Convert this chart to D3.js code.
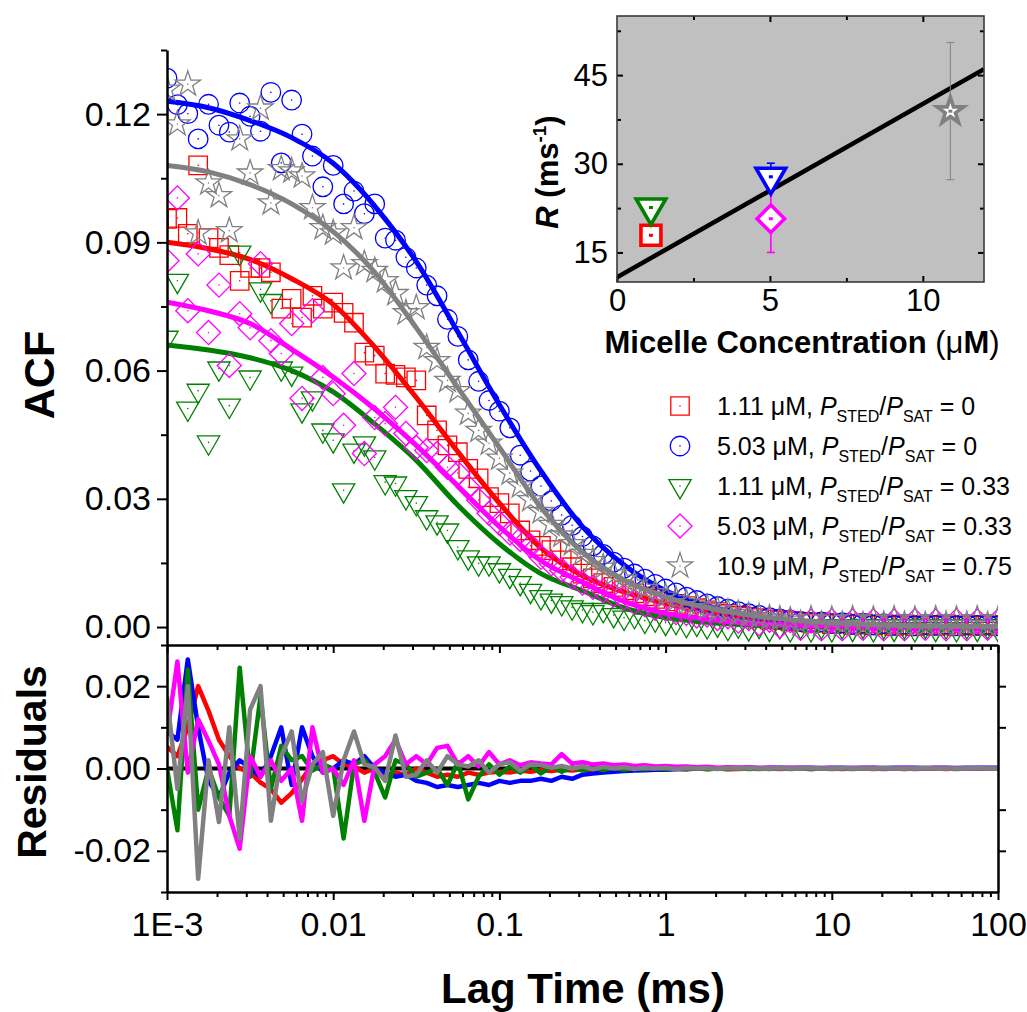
<!DOCTYPE html>
<html>
<head>
<meta charset="utf-8">
<script src="https://cdn.jsdelivr.net/npm/d3@7"></script>
<style>
  body { margin: 0; background: #fff; }
  svg { display: block; }
  text { font-family: Arial, "Liberation Sans", sans-serif; }
</style>
</head>
<body>
<svg id="chart" width="1027" height="1012"></svg>
<script>
// lag times in ms, 16 points per decade
const lagTimes = [
  0.001, 0.001155, 0.001334, 0.00154, 0.001778, 0.002054, 0.002371, 0.002738, 0.003162, 0.003652, 0.004217, 0.00487, 0.005623, 0.006494, 0.007499, 0.00866,
  0.01, 0.01155, 0.01334, 0.0154, 0.01778, 0.02054, 0.02371, 0.02738, 0.03162, 0.03652, 0.04217, 0.0487, 0.05623, 0.06494, 0.07499, 0.0866,
  0.1, 0.1155, 0.1334, 0.154, 0.1778, 0.2054, 0.2371, 0.2738, 0.3162, 0.3652, 0.4217, 0.487, 0.5623, 0.6494, 0.7499, 0.866,
  1, 1.155, 1.334, 1.54, 1.778, 2.054, 2.371, 2.738, 3.162, 3.652, 4.217, 4.87, 5.623, 6.494, 7.499, 8.66,
  10, 11.55, 13.34, 15.4, 17.78, 20.54, 23.71, 27.38, 31.62, 36.52, 42.17, 48.7, 56.23, 64.94, 74.99, 86.6,
  100
];

const redAcf = [
  0.0955, 0.0957, 0.0920, 0.1080, 0.0910, 0.0887, 0.0870, 0.0810, 0.0840, 0.0840, 0.0830, 0.0745, 0.0768, 0.0724, 0.0775, 0.0745,
  0.0759, 0.0735, 0.0712, 0.0642, 0.0635, 0.0593, 0.0590, 0.0584, 0.0577, 0.0495, 0.0460, 0.0425, 0.0409, 0.0370, 0.0348, 0.0304,
  0.0290, 0.0266, 0.0226, 0.0203, 0.0190, 0.0180, 0.0156, 0.0140, 0.0125, 0.0114, 0.0103, 0.0094, 0.0086, 0.0079, 0.0072, 0.0066,
  0.0060, 0.0054, 0.0049, 0.0044, 0.0039, 0.0035, 0.0031, 0.0027, 0.0024, 0.0021, 0.0018, 0.0016, 0.0014, 0.0012, 0.0010, 0.0011,
  0.0007, 0.0009, 0.0005, 0.0008, 0.0004, 0.0007, 0.0003, 0.0006, 0.0002, 0.0005, 0.0003, 0.0006, 0.0002, 0.0005, 0.0003, 0.0005,
  0.0002
];
const blueAcf = [
  0.1284, 0.1222, 0.1201, 0.1142, 0.1223, 0.1174, 0.1158, 0.1226, 0.1195, 0.1160, 0.1251, 0.1086, 0.1233, 0.1153, 0.1102, 0.1030,
  0.1080, 0.0990, 0.1020, 0.0967, 0.0990, 0.0910, 0.0905, 0.0865, 0.0840, 0.0800, 0.0775, 0.0720, 0.0680, 0.0625, 0.0575, 0.0530,
  0.0505, 0.0466, 0.0402, 0.0365, 0.0330, 0.0295, 0.0262, 0.0238, 0.0212, 0.0190, 0.0170, 0.0152, 0.0138, 0.0124, 0.0112, 0.0100,
  0.0089, 0.0080, 0.0070, 0.0062, 0.0054, 0.0048, 0.0042, 0.0036, 0.0031, 0.0027, 0.0022, 0.0019, 0.0016, 0.0013, 0.0011, 0.0012,
  0.0008, 0.0010, 0.0006, 0.0009, 0.0005, 0.0008, 0.0004, 0.0007, 0.0003, 0.0006, 0.0004, 0.0007, 0.0003, 0.0006, 0.0004, 0.0006,
  0.0003
];
const greenAcf = [
  0.0677, 0.0810, 0.0511, 0.0553, 0.0432, 0.0605, 0.0518, 0.0876, 0.0584, 0.0790, 0.0763, 0.0605, 0.0593, 0.0507, 0.0535, 0.0460,
  0.0437, 0.0320, 0.0413, 0.0430, 0.0397, 0.0339, 0.0336, 0.0304, 0.0290, 0.0257, 0.0245, 0.0226, 0.0187, 0.0163, 0.0149, 0.0149,
  0.0133, 0.0120, 0.0103, 0.0085, 0.0070, 0.0062, 0.0056, 0.0046, 0.0040, 0.0035, 0.0040, 0.0028, 0.0022, 0.0026, 0.0015, 0.0018,
  0.0010, 0.0012, 0.0005, 0.0008, 0.0002, 0.0006, -0.0002, 0.0004, -0.0003, 0.0003, -0.0004, 0.0002, -0.0005, 0.0002, -0.0005, 0.0002,
  -0.0005, 0.0002, -0.0004, 0.0003, -0.0005, 0.0002, -0.0004, 0.0002, -0.0005, 0.0003, -0.0004, 0.0002, -0.0005, 0.0002, -0.0004, 0.0002,
  -0.0004
];
const magentaAcf = [
  0.0857, 0.1004, 0.0740, 0.0873, 0.0689, 0.0800, 0.0612, 0.0733, 0.0700, 0.0850, 0.0670, 0.0640, 0.0710, 0.0535, 0.0740, 0.0584,
  0.0546, 0.0472, 0.0593, 0.0406, 0.0490, 0.0476, 0.0514, 0.0453, 0.0420, 0.0413, 0.0406, 0.0374, 0.0360, 0.0327, 0.0297, 0.0266,
  0.0243, 0.0220, 0.0205, 0.0190, 0.0163, 0.0148, 0.0133, 0.0117, 0.0103, 0.0093, 0.0085, 0.0075, 0.0068, 0.0058, 0.0052, 0.0044,
  0.0042, 0.0034, 0.0032, 0.0026, 0.0028, 0.0020, 0.0024, 0.0014, 0.0020, 0.0008, 0.0016, 0.0002, 0.0015, -0.0003, 0.0014, -0.0004,
  0.0015, -0.0004, 0.0014, -0.0003, 0.0015, -0.0004, 0.0014, -0.0004, 0.0015, -0.0003, 0.0014, -0.0004, 0.0015, -0.0004, 0.0014, -0.0003,
  0.0014
];
const grayAcf = [
  0.1258, 0.1177, 0.1270, 0.0922, 0.1039, 0.1009, 0.0927, 0.1142, 0.1062, 0.1214, 0.0992, 0.1072, 0.1067, 0.1055, 0.0981, 0.0934,
  0.0922, 0.0840, 0.0934, 0.0850, 0.0834, 0.0810, 0.0780, 0.0735, 0.0747, 0.0654, 0.0623, 0.0577, 0.0553, 0.0500, 0.0460, 0.0430,
  0.0395, 0.0360, 0.0330, 0.0298, 0.0270, 0.0240, 0.0215, 0.0195, 0.0172, 0.0155, 0.0140, 0.0124, 0.0112, 0.0100, 0.0090, 0.0080,
  0.0072, 0.0064, 0.0057, 0.0050, 0.0045, 0.0040, 0.0035, 0.0031, 0.0027, 0.0024, 0.0021, 0.0019, 0.0016, 0.0008, 0.0019, 0.0006,
  0.0018, 0.0006, 0.0019, 0.0005, 0.0018, 0.0006, 0.0019, 0.0006, 0.0018, 0.0005, 0.0019, 0.0006, 0.0018, 0.0006, 0.0019, 0.0005,
  0.0018
];

// fitted curves, sampled every quarter decade
const fitLag = [0.001, 0.001778, 0.003162, 0.005623, 0.01, 0.01778, 0.03162, 0.05623, 0.1, 0.1778, 0.3162, 0.5623, 1, 1.778, 3.162, 5.623, 10, 17.78, 31.62, 56.23, 100];
const redFit = [0.0900, 0.0885, 0.0860, 0.0815, 0.0755, 0.0655, 0.0537, 0.0410, 0.0290, 0.0185, 0.0120, 0.0082, 0.0055, 0.0036, 0.0022, 0.0013, 0.0007, 0.0004, 0.0002, 0.0001, 0.0000];
const blueFit = [0.1230, 0.1215, 0.1185, 0.1145, 0.1085, 0.0985, 0.0855, 0.0690, 0.0520, 0.0365, 0.0235, 0.0145, 0.0085, 0.0050, 0.0028, 0.0015, 0.0008, 0.0004, 0.0002, 0.0001, 0.0000];
const greenFit = [0.0660, 0.0648, 0.0630, 0.0600, 0.0550, 0.0475, 0.0390, 0.0285, 0.0195, 0.0125, 0.0085, 0.0045, 0.0022, 0.0011, 0.0005, 0.0002, 0.0001, 0.0000, 0.0000, 0.0000, 0.0000];
const magentaFit = [0.0760, 0.0740, 0.0710, 0.0650, 0.0585, 0.0510, 0.0425, 0.0330, 0.0235, 0.0155, 0.0105, 0.0060, 0.0032, 0.0018, 0.0009, 0.0005, 0.0003, 0.0001, 0.0001, 0.0000, 0.0000];
const grayFit = [0.1080, 0.1065, 0.1035, 0.0990, 0.0925, 0.0830, 0.0700, 0.0560, 0.0420, 0.0280, 0.0175, 0.0110, 0.0070, 0.0045, 0.0028, 0.0017, 0.0010, 0.0006, 0.0003, 0.0002, 0.0001];

// residuals at each lag time
const redRes = [
  0.0053, 0.0030, 0.0100, 0.0200, 0.0140, 0.0070, 0.0030, 0.0000, -0.0010, -0.0034, -0.0050, -0.0083, -0.0060, -0.0026, 0.0010, 0.0020,
  0.0030, 0.0010, 0.0005, -0.0010, 0.0000, -0.0020, -0.0010, -0.0015, 0.0000, -0.0010, -0.0020, -0.0015, -0.0020, -0.0010, -0.0015, -0.0010,
  -0.0008, -0.0010, -0.0005, -0.0008, -0.0004, -0.0006, -0.0003, -0.0005, -0.0002, -0.0004, -0.0002, -0.0003, -0.0001, -0.0002, 0.0000, -0.0002,
  -0.0001, 0.0000, -0.0002, 0.0000, -0.0001, 0.0000, -0.0002, -0.0001, 0.0000, -0.0001, 0.0000, -0.0001, 0.0000, 0.0000, -0.0001, 0.0000,
  0.0000, -0.0001, 0.0000, 0.0000, -0.0001, 0.0000, 0.0000, -0.0001, 0.0000, 0.0000, 0.0000, -0.0001, 0.0000, 0.0000, 0.0000, 0.0000,
  0.0000
];
const blueRes = [
  0.0090, 0.0070, 0.0265, 0.0100, -0.0030, -0.0070, -0.0010, 0.0020, 0.0000, -0.0020, 0.0030, 0.0100, -0.0040, 0.0100, 0.0030, -0.0010,
  0.0000, 0.0020, 0.0010, 0.0030, 0.0000, -0.0010, -0.0020, -0.0015, -0.0030, -0.0035, -0.0045, -0.0040, -0.0045, -0.0040, -0.0035, -0.0040,
  -0.0030, -0.0035, -0.0030, -0.0030, -0.0025, -0.0030, -0.0020, -0.0025, -0.0015, -0.0012, -0.0010, -0.0008, -0.0006, -0.0005, -0.0004, -0.0003,
  -0.0003, -0.0002, -0.0001, 0.0000, 0.0001, 0.0000, 0.0002, 0.0001, 0.0002, 0.0001, 0.0002, 0.0002, 0.0001, 0.0002, 0.0002, 0.0001,
  0.0002, 0.0002, 0.0001, 0.0002, 0.0002, 0.0001, 0.0002, 0.0002, 0.0002, 0.0001, 0.0002, 0.0002, 0.0001, 0.0002, 0.0002, 0.0002,
  0.0002
];
const greenRes = [
  0.0000, -0.0150, 0.0240, -0.0100, 0.0000, -0.0070, -0.0115, 0.0245, -0.0020, 0.0175, -0.0050, 0.0055, 0.0020, 0.0030, -0.0005, 0.0010,
  0.0000, -0.0170, 0.0010, 0.0020, -0.0010, -0.0070, 0.0020, 0.0010, -0.0020, -0.0010, 0.0000, -0.0040, 0.0015, -0.0075, -0.0020, 0.0010,
  -0.0015, 0.0005, -0.0010, 0.0008, -0.0012, 0.0005, -0.0008, 0.0003, -0.0005, 0.0002, -0.0004, 0.0002, -0.0003, 0.0001, -0.0002, 0.0001,
  -0.0002, 0.0001, -0.0001, 0.0001, -0.0002, 0.0000, -0.0001, 0.0001, -0.0001, 0.0000, -0.0001, 0.0001, -0.0001, 0.0000, -0.0001, 0.0000,
  -0.0001, 0.0000, -0.0001, 0.0000, 0.0000, -0.0001, 0.0000, 0.0000, -0.0001, 0.0000, 0.0000, 0.0000, -0.0001, 0.0000, 0.0000, 0.0000,
  0.0000
];
const magentaRes = [
  0.0080, 0.0260, -0.0010, 0.0120, 0.0067, 0.0010, -0.0115, -0.0195, 0.0030, -0.0020, 0.0020, -0.0030, 0.0000, -0.0127, 0.0100, -0.0010,
  0.0000, -0.0040, 0.0020, -0.0127, 0.0010, 0.0030, 0.0070, 0.0010, 0.0030, 0.0010, 0.0050, 0.0055, 0.0010, 0.0030, 0.0005, 0.0040,
  0.0010, 0.0020, 0.0008, 0.0015, 0.0012, 0.0010, 0.0035, 0.0012, 0.0015, 0.0010, 0.0012, 0.0008, 0.0010, 0.0006, 0.0008, 0.0005,
  0.0006, 0.0004, 0.0005, 0.0003, 0.0004, 0.0002, 0.0003, 0.0002, 0.0003, 0.0001, 0.0002, 0.0001, 0.0002, 0.0001, 0.0001, 0.0000,
  0.0001, 0.0000, 0.0001, 0.0000, 0.0001, 0.0000, 0.0000, 0.0001, 0.0000, 0.0000, 0.0001, 0.0000, 0.0000, 0.0000, 0.0001, 0.0000,
  0.0000
];
const grayRes = [
  0.0175, -0.0050, 0.0200, -0.0268, 0.0020, -0.0130, 0.0100, -0.0170, 0.0143, 0.0200, -0.0127, 0.0030, 0.0090, -0.0080, 0.0010, 0.0040,
  -0.0115, 0.0020, 0.0090, 0.0010, 0.0003, -0.0030, 0.0080, -0.0020, -0.0015, 0.0020, -0.0010, 0.0030, 0.0010, 0.0005, 0.0020, -0.0010,
  0.0010, 0.0015, -0.0005, 0.0010, 0.0008, 0.0002, 0.0006, 0.0000, 0.0005, -0.0002, 0.0004, 0.0000, 0.0003, -0.0001, 0.0002, 0.0000,
  0.0002, -0.0001, 0.0001, 0.0000, 0.0001, -0.0001, 0.0001, 0.0000, 0.0001, 0.0000, 0.0000, 0.0001, 0.0000, 0.0000, 0.0001, 0.0000,
  0.0000, 0.0001, 0.0000, 0.0000, 0.0000, 0.0001, 0.0000, 0.0000, 0.0000, 0.0001, 0.0000, 0.0000, 0.0000, 0.0000, 0.0001, 0.0000,
  0.0000
];

const legendConc = ["1.11", "5.03", "1.11", "5.03", "10.9"];
const legendRatio = ["0", "0", "0.33", "0.33", "0.75"];

// inset: rate vs micelle concentration (series order: red, blue, green, magenta, gray)
const insetConc = [1.11, 5.03, 1.11, 5.03, 10.9];
const insetRate = [17.9, 27.8, 22.6, 20.7, 38.9];
const insetErr = [1.0, 2.3, 0.4, 5.7, 11.6];
const insetFitX = [0, 12];
const insetFitY = [10.8, 46.0];

const xTickValues = [0.001, 0.01, 0.1, 1, 10, 100];
const xTickLabels = ["1E-3", "0.01", "0.1", "1", "10", "100"];
const acfTicks = [0, 0.03, 0.06, 0.09, 0.12];
const acfMinor = [0.015, 0.045, 0.075, 0.105, 0.135];
const resTicks = [-0.02, 0, 0.02];
const resMinor = [-0.03, -0.01, 0.01, 0.03];

const FONT = 'Arial, "Liberation Sans", sans-serif';
const svg = d3.select("#chart");

const x = d3.scaleLog().domain([0.001, 100]).range([167, 998]);
const y = d3.scaleLinear().domain([-0.0042, 0.135]).range([645, 50]);
const yRes = d3.scaleLinear().domain([-0.03, 0.03]).range([892, 645]);

const shapes = {
  square:   { type: d3.symbolSquare,   size: 340, rot: 0 },
  circle:   { type: d3.symbolCircle,   size: 300, rot: 0 },
  triangle: { type: d3.symbolTriangle, size: 215, rot: 180 },
  diamond:  { type: d3.symbolSquare,   size: 290, rot: 45 },
  star:     { type: d3.symbolStar,     size: 200, rot: 0 }
};

const series = [
  { color: "#ff0000", shape: "square",   acf: redAcf,     fit: redFit,     res: redRes,     inset: "square" },
  { color: "#0000ff", shape: "circle",   acf: blueAcf,    fit: blueFit,    res: blueRes,    inset: "triangle" },
  { color: "#008000", shape: "triangle", acf: greenAcf,   fit: greenFit,   res: greenRes,   inset: "triangle" },
  { color: "#ff00ff", shape: "diamond",  acf: magentaAcf, fit: magentaFit, res: magentaRes, inset: "diamond" },
  { color: "#808080", shape: "star",     acf: grayAcf,    fit: grayFit,    res: grayRes,    inset: "star" }
];

const defs = svg.append("defs");
defs.append("clipPath").attr("id", "clipMain").append("rect")
  .attr("x", 167).attr("y", 30).attr("width", 831).attr("height", 615);
defs.append("clipPath").attr("id", "clipRes").append("rect")
  .attr("x", 167).attr("y", 645).attr("width", 831).attr("height", 247);

// main ACF panel
const main = svg.append("g").attr("clip-path", "url(#clipMain)");
const fitLine = d3.line()
  .x((d, i) => x(fitLag[i]))
  .y(d => y(d))
  .curve(d3.curveMonotoneX);

series.forEach(s => {
  const sym = shapes[s.shape];
  const p = d3.symbol(sym.type, sym.size)();
  const g = main.append("g");
  g.selectAll("path.m").data(s.acf).join("path")
    .attr("class", "m")
    .attr("d", p)
    .attr("transform", (d, i) => `translate(${x(lagTimes[i])},${y(d)}) rotate(${sym.rot})`)
    .attr("fill", "none")
    .attr("stroke", s.color)
    .attr("stroke-width", 1.3);
  g.selectAll("circle").data(s.acf).join("circle")
    .attr("cx", (d, i) => x(lagTimes[i]))
    .attr("cy", d => y(d))
    .attr("r", 0.8)
    .attr("fill", s.color);
  g.append("path").datum(s.fit)
    .attr("d", fitLine)
    .attr("fill", "none")
    .attr("stroke", s.color)
    .attr("stroke-width", 5);
});

// residual panel
const resG = svg.append("g").attr("clip-path", "url(#clipRes)");
resG.append("line")
  .attr("x1", 167).attr("x2", 998)
  .attr("y1", yRes(0)).attr("y2", yRes(0))
  .attr("stroke", "#000").attr("stroke-width", 4);
const resLine = d3.line().x((d, i) => x(lagTimes[i])).y(d => yRes(d));
series.forEach(s => {
  resG.append("path").datum(s.res)
    .attr("d", resLine)
    .attr("fill", "none")
    .attr("stroke", s.color)
    .attr("stroke-width", 4.5)
    .attr("stroke-linejoin", "round");
});

// axes
function styleAxis(g, fontSize, keepDomain) {
  if (keepDomain) g.select(".domain").attr("stroke-width", 2.5).attr("stroke", "#000");
  else g.select(".domain").remove();
  g.selectAll(".tick line").attr("stroke-width", 2).attr("stroke", "#000");
  g.selectAll("text").attr("font-size", fontSize).attr("font-family", FONT).attr("fill", "#000");
}
const minorX = [];
xTickValues.slice(0, -1).forEach(d => { for (let k = 2; k <= 9; k++) minorX.push(d * k); });

// main left
svg.append("g").attr("transform", "translate(167,0)")
  .call(d3.axisLeft(y).tickValues(acfTicks).tickFormat(d => d.toFixed(2)).tickSize(10).tickPadding(6).tickSizeOuter(0))
  .call(g => styleAxis(g, 34, true));
svg.append("g").attr("transform", "translate(167,0)")
  .call(d3.axisLeft(y).tickValues(acfMinor).tickFormat("").tickSize(6))
  .call(g => styleAxis(g, 34, false));

// shared boundary between panels
svg.append("g").attr("transform", "translate(0,645)")
  .call(d3.axisBottom(x).tickValues(xTickValues).tickFormat("").tickSize(8).tickSizeOuter(0))
  .call(g => styleAxis(g, 34, true));
svg.append("g").attr("transform", "translate(0,645)")
  .call(d3.axisBottom(x).tickValues(minorX).tickFormat("").tickSize(5))
  .call(g => styleAxis(g, 34, false));

// residual left
svg.append("g").attr("transform", "translate(167,0)")
  .call(d3.axisLeft(yRes).tickValues(resTicks).tickFormat(d => d.toFixed(2)).tickSize(10).tickPadding(6).tickSizeOuter(0))
  .call(g => styleAxis(g, 34, true));
svg.append("g").attr("transform", "translate(167,0)")
  .call(d3.axisLeft(yRes).tickValues(resMinor).tickFormat("").tickSize(6))
  .call(g => styleAxis(g, 34, false));

// residual right
svg.append("g").attr("transform", "translate(998,0)")
  .call(d3.axisLeft(yRes).tickValues([-0.02, -0.01, 0.01, 0.02]).tickFormat("").tickSize(-8).tickSizeOuter(0))
  .call(g => styleAxis(g, 34, true));

// residual bottom
svg.append("g").attr("transform", "translate(0,892)")
  .call(d3.axisBottom(x).tickValues(xTickValues).tickFormat((d, i) => xTickLabels[i]).tickSize(8).tickPadding(12).tickSizeOuter(0))
  .call(g => styleAxis(g, 34, true));
svg.append("g").attr("transform", "translate(0,892)")
  .call(d3.axisBottom(x).tickValues(minorX).tickFormat("").tickSize(5))
  .call(g => styleAxis(g, 34, false));

// axis titles
svg.append("text")
  .attr("transform", "translate(54,375) rotate(-90)")
  .attr("text-anchor", "middle")
  .attr("font-size", 43).attr("font-weight", "bold")
  .text("ACF");
svg.append("text")
  .attr("transform", "translate(46,762) rotate(-90)")
  .attr("text-anchor", "middle")
  .attr("font-size", 41).attr("font-weight", "bold")
  .text("Residuals");
svg.append("text")
  .attr("x", 583).attr("y", 1003)
  .attr("text-anchor", "middle")
  .attr("font-size", 42).attr("font-weight", "bold")
  .text("Lag Time (ms)");

// legend
series.forEach((s, i) => {
  const yy = 415 + 40 * i;
  const sym = shapes[s.shape];
  svg.append("path")
    .attr("d", d3.symbol(sym.type, sym.size)())
    .attr("transform", `translate(680,${yy - 9}) rotate(${sym.rot})`)
    .attr("fill", "none").attr("stroke", s.color).attr("stroke-width", 1.3);
  svg.append("circle").attr("cx", 680).attr("cy", yy - 9).attr("r", 0.8).attr("fill", s.color);
  const t = svg.append("text").attr("x", 717).attr("y", yy).attr("font-size", 25);
  t.append("tspan").text(`${legendConc[i]} \u03bcM, `);
  t.append("tspan").attr("font-style", "italic").text("P");
  t.append("tspan").attr("font-size", 16).attr("dy", 7).text("STED");
  t.append("tspan").attr("dy", -7).text("/");
  t.append("tspan").attr("font-style", "italic").text("P");
  t.append("tspan").attr("font-size", 16).attr("dy", 7).text("SAT");
  t.append("tspan").attr("dy", -7).text(` = ${legendRatio[i]}`);
});

// inset
const ix = d3.scaleLinear().domain([0, 12]).range([617, 984]);
const iy = d3.scaleLinear().domain([10, 55]).range([282, 16]);
defs.append("clipPath").attr("id", "clipInset").append("rect")
  .attr("x", 617).attr("y", 16).attr("width", 367).attr("height", 266);

svg.append("rect")
  .attr("x", 617).attr("y", 16).attr("width", 367).attr("height", 266)
  .attr("fill", "#c0c0c0");

svg.append("path")
  .datum(insetFitX.map((d, i) => [d, insetFitY[i]]))
  .attr("clip-path", "url(#clipInset)")
  .attr("d", d3.line().x(d => ix(d[0])).y(d => iy(d[1])))
  .attr("stroke", "#000").attr("stroke-width", 4.5).attr("fill", "none");

svg.append("g").attr("transform", "translate(617,0)")
  .call(d3.axisLeft(iy).tickValues([15, 30, 45]).tickSize(-6).tickPadding(9).tickSizeOuter(0))
  .call(g => styleAxis(g, 31, false));
svg.append("g").attr("transform", "translate(617,0)")
  .call(d3.axisLeft(iy).tickValues([22.5, 37.5, 52.5]).tickFormat("").tickSize(-4))
  .call(g => styleAxis(g, 31, false));
svg.append("g").attr("transform", "translate(984,0)")
  .call(d3.axisRight(iy).tickValues([15, 30, 45]).tickFormat("").tickSize(-6))
  .call(g => styleAxis(g, 31, false));
svg.append("g").attr("transform", "translate(984,0)")
  .call(d3.axisRight(iy).tickValues([22.5, 37.5, 52.5]).tickFormat("").tickSize(-4))
  .call(g => styleAxis(g, 31, false));
svg.append("g").attr("transform", "translate(0,282)")
  .call(d3.axisBottom(ix).tickValues([0, 5, 10]).tickSize(-6).tickPadding(7).tickSizeOuter(0))
  .call(g => styleAxis(g, 31, false));
svg.append("g").attr("transform", "translate(0,282)")
  .call(d3.axisBottom(ix).tickValues([2.5, 7.5]).tickFormat("").tickSize(-4))
  .call(g => styleAxis(g, 31, false));
svg.append("g").attr("transform", "translate(0,16)")
  .call(d3.axisTop(ix).tickValues([5, 10]).tickFormat("").tickSize(-6))
  .call(g => styleAxis(g, 31, false));
svg.append("g").attr("transform", "translate(0,16)")
  .call(d3.axisTop(ix).tickValues([2.5, 7.5]).tickFormat("").tickSize(-4))
  .call(g => styleAxis(g, 31, false));

svg.append("rect")
  .attr("x", 617).attr("y", 16).attr("width", 367).attr("height", 266)
  .attr("fill", "none").attr("stroke", "#3a3a3a").attr("stroke-width", 1.6);

const insetSizes = [400, 380, 380, 380, 220];
series.forEach((s, i) => {
  const cx = ix(insetConc[i]);
  const top = iy(insetRate[i] + insetErr[i]);
  const bot = iy(insetRate[i] - insetErr[i]);
  const w = s.inset === "star" ? 1 : 1.6;
  const eb = svg.append("g").attr("stroke", s.color).attr("stroke-width", w);
  eb.append("line").attr("x1", cx).attr("x2", cx).attr("y1", top).attr("y2", bot);
  eb.append("line").attr("x1", cx - 4).attr("x2", cx + 4).attr("y1", top).attr("y2", top);
  eb.append("line").attr("x1", cx - 4).attr("x2", cx + 4).attr("y1", bot).attr("y2", bot);
});
series.forEach((s, i) => {
  const cx = ix(insetConc[i]);
  const cy = iy(insetRate[i]);
  const sym = shapes[s.inset];
  svg.append("path")
    .attr("d", d3.symbol(sym.type, insetSizes[i])())
    .attr("transform", `translate(${cx},${cy}) rotate(${sym.rot})`)
    .attr("fill", "#fff").attr("stroke", s.color).attr("stroke-width", 3.6)
    .attr("stroke-linejoin", "miter");
  svg.append("rect")
    .attr("x", cx - 2).attr("y", cy - 1.5).attr("width", 4).attr("height", 3)
    .attr("fill", s.color);
});

// inset titles
svg.append("text")
  .attr("x", 802).attr("y", 353)
  .attr("text-anchor", "middle")
  .attr("font-size", 31).attr("font-weight", "bold")
  .call(t => {
    t.append("tspan").text("Micelle Concentration ");
    t.append("tspan").attr("font-weight", "normal").text("(\u03bc");
    t.append("tspan").text("M");
    t.append("tspan").attr("font-weight", "normal").text(")");
  });
svg.append("text")
  .attr("transform", "translate(558,172) rotate(-90)")
  .attr("text-anchor", "middle")
  .attr("font-size", 31).attr("font-weight", "bold")
  .call(t => {
    t.append("tspan").attr("font-style", "italic").text("R");
    t.append("tspan").text(" (ms");
    t.append("tspan").attr("font-size", 19).attr("dy", -12).text("-1");
    t.append("tspan").attr("dy", 12).text(")");
  });
</script>
</body>
</html>
